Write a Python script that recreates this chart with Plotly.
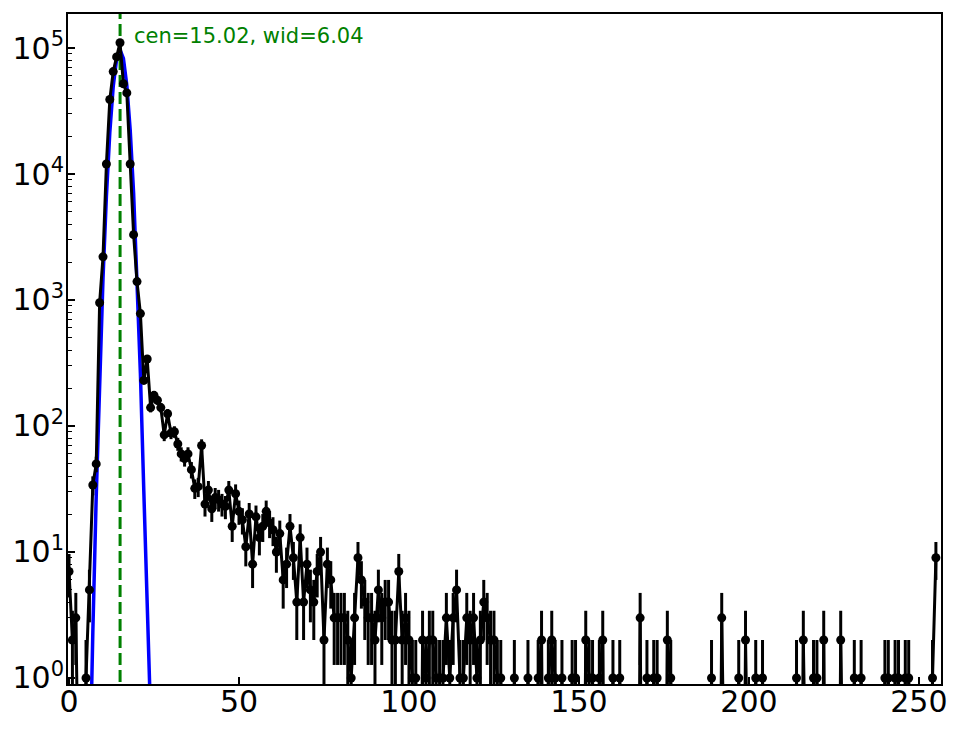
import numpy as np
import plotly.graph_objects as go

# ---------------- data ----------------
bins = list(range(256))
counts = [
    7, 2, 3, 0, 0, 1, 5, 34, 50, 950,
    2200, 12000, 39000, 65000, 85000, 110000, 52000, 44000, 12000, 3300,
    1400, 780, 230, 340, 140, 175, 160, 140, 85, 125,
    88, 90, 72, 60, 55, 60, 45, 32, 33, 70,
    24, 31, 22, 27, 26, 24, 23, 31, 16, 29,
    21, 18, 11, 20, 8, 19, 13, 16, 21, 17,
    15, 10, 14, 6, 8, 16, 9, 4, 13, 4,
    8, 5, 4, 7, 10, 2, 8, 6, 3, 3,
    3, 3, 2, 1, 3, 9, 6, 4, 3, 3,
    2, 5, 3, 4, 4, 2, 2, 7, 2, 3,
    2, 1, 1, 0, 2, 1, 2, 2, 1, 1,
    1, 3, 1, 3, 5, 1, 1, 3, 2, 3,
    1, 2, 4, 3, 2, 2, 1, 1, 0, 0,
    0, 1, 0, 0, 0, 1, 0, 0, 1, 2,
    0, 1, 2, 1, 0, 1, 0, 0, 1, 1,
    0, 0, 2, 1, 1, 0, 1, 2, 0, 0,
    1, 0, 1, 0, 0, 0, 0, 0, 3, 0,
    1, 0, 1, 1, 0, 0, 2, 1, 0, 0,
    0, 0, 0, 0, 0, 0, 0, 0, 0, 1,
    0, 0, 3, 0, 0, 0, 0, 1, 0, 2,
    0, 0, 1, 0, 1, 0, 0, 0, 0, 0,
    0, 0, 0, 0, 1, 0, 2, 0, 0, 1,
    1, 0, 2, 0, 0, 0, 0, 2, 0, 0,
    0, 1, 0, 1, 0, 0, 0, 0, 0, 0,
    1, 1, 0, 1, 1, 0, 1, 1, 0, 0,
    0, 0, 0, 0, 1, 9,
]

# fit parameters (gaussian: amp * exp(-(x-cen)^2 / wid))
fit_amp = 97000.0
fit_cen = 15.02
fit_wid = 6.04
label_text = "cen=15.02, wid=6.04"

x_ticks = [0, 50, 100, 150, 200, 250]
y_tick_exponents = [0, 1, 2, 3, 4, 5]

x_range = [-0.3, 256.5]
y_range_log = [-0.048, 5.27]

# ---------------- derived ----------------
x = np.array(bins, dtype=float)
c = np.array(counts, dtype=float)
err = np.sqrt(c)
# zero counts fall off the bottom of the log axis (like matplotlib's clipping)
y_plot = np.where(c > 0, c, 1e-3)

fit_x = x[x <= 40]
fit_y = fit_amp * np.exp(-(fit_x - fit_cen) ** 2 / fit_wid)
fit_y = np.maximum(fit_y, 1e-3)

fig = go.Figure()

fig.add_trace(go.Scatter(
    x=fit_x, y=fit_y, mode="lines",
    line=dict(color="#0000ff", width=3.5),
    hoverinfo="skip", showlegend=False,
))

fig.add_trace(go.Scatter(
    x=[fit_cen, fit_cen], y=[1e-3, 1e7], mode="lines",
    line=dict(color="#008000", width=3, dash="12px,5px"),
    hoverinfo="skip", showlegend=False,
))

fig.add_trace(go.Scatter(
    x=x, y=y_plot, mode="lines+markers",
    line=dict(color="black", width=3),
    marker=dict(color="black", size=9),
    error_y=dict(type="data", array=err, arrayminus=err, symmetric=False,
                 color="black", thickness=3, width=0),
    showlegend=False,
))

# page body has an 8px default margin, so the figure is 948x713 at (8, 8)
fig.add_annotation(
    x=(132 - 68) / 873, y=1 - (36 - 14) / 670, xref="paper", yref="paper",
    text=label_text, showarrow=False, xanchor="left", yanchor="middle",
    font=dict(family="DejaVu Sans", size=21, color="#008000"),
)

fig.update_layout(
    width=948, height=713,
    margin=dict(l=60, r=15, t=6, b=37),
    paper_bgcolor="white", plot_bgcolor="white",
    font=dict(family="DejaVu Sans", color="black"),
    showlegend=False,
)

fig.update_xaxes(
    range=x_range, showgrid=False, zeroline=False, automargin=False,
    showline=True, linecolor="black", linewidth=2, mirror=True,
    ticks="inside", ticklen=7, tickwidth=1.5, tickcolor="black",
    tickvals=x_ticks, ticktext=[str(t) for t in x_ticks],
    tickfont=dict(size=30, family="DejaVu Sans"),
    ticklabelstandoff=-10,
)

fig.update_yaxes(
    type="log", range=y_range_log, showgrid=False, zeroline=False, automargin=False,
    showline=True, linecolor="black", linewidth=2, mirror=True,
    ticks="inside", ticklen=7, tickwidth=1.5, tickcolor="black",
    tickvals=[10 ** e for e in y_tick_exponents],
    ticktext=[f"10<sup>{e}</sup>" for e in y_tick_exponents],
    tickfont=dict(size=30, family="DejaVu Sans"),
    ticklabelstandoff=-4,
    minor=dict(ticks="inside", ticklen=4, tickwidth=1, tickcolor="black",
               showgrid=False, dtick="D1"),
)

fig.write_html("out.html")
